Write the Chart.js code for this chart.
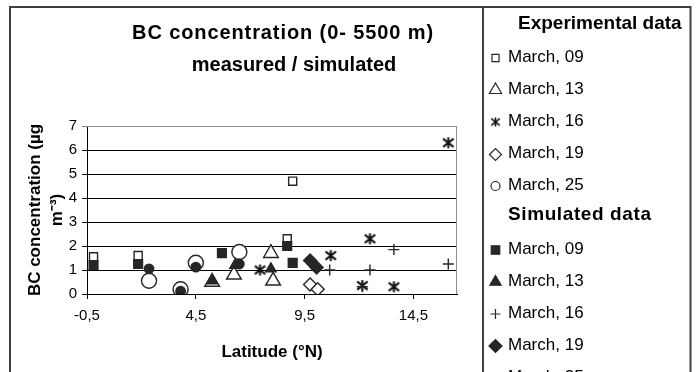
<!DOCTYPE html>
<html lang="en">
<head>
<meta charset="UTF-8">
<title>BC concentration (0- 5500 m)</title>
<script src="https://cdn.jsdelivr.net/npm/chart.js@4.4.0/dist/chart.umd.min.js"></script>
<style>
  html, body { margin: 0; padding: 0; background: #fff; }
</style>
</head>
<body>
<canvas id="chart" width="698" height="372"></canvas>
<script>
// flight days
const dayLabels = ['March, 09', 'March, 13', 'March, 16', 'March, 19', 'March, 25'];

// measured BC (latitude in °N, concentration in µg m-3)
const exp09Lat = [-0.2, 1.85, 8.7, 8.95];
const exp09Bc  = [1.55, 1.6, 2.3, 4.7];
const exp13Lat = [5.25, 6.25, 7.95, 8.05];
const exp13Bc  = [0.5, 0.8, 1.7, 0.55];
const exp16Lat = [7.45, 10.7, 12.15, 12.5, 13.6, 16.1];
const exp16Bc  = [1.0, 1.6, 0.35, 2.3, 0.3, 6.3];
const exp19Lat = [9.75, 10.1];
const exp19Bc  = [0.4, 0.2];
const exp25Lat = [2.35, 3.8, 4.5, 6.5];
const exp25Bc  = [0.55, 0.2, 1.3, 1.75];

// simulated BC
const sim09Lat = [-0.2, 1.85, 5.7, 8.7, 8.95];
const sim09Bc  = [1.2, 1.25, 1.7, 2.0, 1.3];
const sim13Lat = [5.25, 6.3, 7.95];
const sim13Bc  = [0.55, 1.2, 1.05];
const sim16Lat = [10.65, 12.15, 12.5, 13.6, 16.1];
const sim16Bc  = [1.0, 0.3, 1.0, 1.85, 1.25];
const sim19Lat = [9.75, 10.05];
const sim19Bc  = [1.4, 1.1];
const sim25Lat = [2.35, 3.8, 4.5, 6.5];
const sim25Bc  = [1.05, 0.12, 1.12, 1.25];

// axis ticks
const xTickValues = [-0.5, 4.5, 9.5, 14.5];
const xTickLabels = ['-0,5', '4,5', '9,5', '14,5'];

const titleLines = ['BC concentration (0- 5500 m)', 'measured / simulated'];
const yTitleLines = ['BC concentration (\u00b5g', 'm\u207b\u00b3)'];
const xTitle = 'Latitude (\u00b0N)';

const FONT = 'Liberation Sans, Arial, sans-serif';
const INK = '#262626';
Chart.defaults.font.family = FONT;

function pts(xs, ys) {
    return xs.map((x, i) => ({ x: x, y: ys[i] }));
}

// six-armed asterisk marker (Chart.js 'star' has eight arms)
function asterisk(size, lw) {
    const c = document.createElement('canvas');
    c.width = size; c.height = size;
    const g = c.getContext('2d');
    const m = size / 2, r = size / 2 - 1;
    g.strokeStyle = '#111';
    g.lineWidth = lw;
    g.beginPath();
    g.moveTo(m, m - r); g.lineTo(m, m + r);
    g.moveTo(m - r * 0.95, m - r * 0.75); g.lineTo(m + r * 0.95, m + r * 0.75);
    g.moveTo(m - r * 0.95, m + r * 0.75); g.lineTo(m + r * 0.95, m - r * 0.75);
    g.stroke();
    return c;
}
const starBig = asterisk(13, 2);
const starSmall = asterisk(11, 1.6);

function series(label, xs, ys, style, radius, fill, order, legendStyle, legendRadius) {
    return {
        label: label,
        data: pts(xs, ys),
        pointStyle: style,
        pointRadius: radius,
        pointHoverRadius: radius,
        pointBackgroundColor: fill,
        pointBorderColor: INK,
        pointBorderWidth: 1.4,
        order: order,
        legendStyle: legendStyle || style,
        legendRadius: legendRadius
    };
}

const datasets = [
    series(dayLabels[0], exp09Lat, exp09Bc, 'rect', 5.7, '#fff', 2, null, 5),
    series(dayLabels[1], exp13Lat, exp13Bc, 'triangle', 8.5, '#fff', 2, null, 7),
    series(dayLabels[2], exp16Lat, exp16Bc, starBig, 6, '#fff', 2, starSmall, 5),
    series(dayLabels[3], exp19Lat, exp19Bc, 'rectRot', 6.5, '#fff', 2, null, 6),
    series(dayLabels[4], exp25Lat, exp25Bc, 'circle', 7.5, '#fff', 2, null, 4.5),
    series(dayLabels[0], sim09Lat, sim09Bc, 'rect', 6.2, INK, 1, null, 6),
    series(dayLabels[1], sim13Lat, sim13Bc, 'triangle', 6, INK, 1, null, 6.5),
    series(dayLabels[2], sim16Lat, sim16Bc, 'cross', 5.5, INK, 1, null, 5),
    series(dayLabels[3], sim19Lat, sim19Bc, 'rectRot', 6.5, INK, 1, null, 6.5),
    series(dayLabels[4], sim25Lat, sim25Bc, 'circle', 4.7, INK, 1, null, 4.5)
];

// frame, title, legend box and the grey top/right edge of the plot
const decorations = {
    id: 'decorations',
    beforeDatasetsDraw(chart) {
        const { ctx, chartArea: a } = chart;
        ctx.save();
        ctx.strokeStyle = '#8c8c8c';
        ctx.lineWidth = 1;
        ctx.beginPath();
        ctx.moveTo(a.left, a.top + 0.5);
        ctx.lineTo(a.right - 0.5, a.top + 0.5);
        ctx.lineTo(a.right - 0.5, a.bottom);
        ctx.stroke();
        ctx.restore();
    },
    afterDraw(chart) {
        const ctx = chart.ctx;
        const { drawPoint } = Chart.helpers;
        ctx.save();

        // outer frame
        ctx.strokeStyle = '#404040';
        ctx.lineWidth = 2;
        ctx.beginPath();
        ctx.moveTo(10, 380); ctx.lineTo(10, 7); ctx.lineTo(690.5, 7); ctx.lineTo(690.5, 380);
        ctx.stroke();
        ctx.beginPath();
        ctx.moveTo(483, 7); ctx.lineTo(483, 380);
        ctx.stroke();

        // chart title
        ctx.fillStyle = '#000';
        ctx.textAlign = 'center';
        ctx.textBaseline = 'middle';
        ctx.font = 'bold 20px ' + FONT;
        ctx.letterSpacing = '0.9px';
        ctx.fillText(titleLines[0], 283, 33);
        ctx.letterSpacing = '0px';
        ctx.fillText(titleLines[1], 294, 65);

        // legend
        const rows = [
            { head: 'Experimental data', x: 518, y: 24 },
            { ds: 0, y: 57 }, { ds: 1, y: 89 }, { ds: 2, y: 121 }, { ds: 3, y: 153.5 }, { ds: 4, y: 185 },
            { head: 'Simulated data', x: 508, y: 215 },
            { ds: 5, y: 249 }, { ds: 6, y: 281 }, { ds: 7, y: 313 }, { ds: 8, y: 345 }, { ds: 9, y: 377 }
        ];
        ctx.textAlign = 'left';
        rows.forEach(r => {
            if (r.head) {
                ctx.fillStyle = '#000';
                ctx.font = 'bold 19px ' + FONT;
                ctx.letterSpacing = r.ds === undefined && r.x === 508 ? '0.6px' : '0px';
                ctx.fillText(r.head, r.x, r.y);
                ctx.letterSpacing = '0px';
                return;
            }
            const d = chart.data.datasets[r.ds];
            ctx.fillStyle = d.pointBackgroundColor;
            ctx.strokeStyle = d.pointBorderColor;
            ctx.lineWidth = 1.2;
            drawPoint(ctx, { pointStyle: d.legendStyle, radius: d.legendRadius, rotation: 0, borderWidth: 1.2 }, 495.5, r.y + 1);
            ctx.fillStyle = '#000';
            ctx.font = '17px ' + FONT;
            ctx.fillText(d.label, 508, r.y);
        });
        ctx.restore();
    }
};

new Chart(document.getElementById('chart'), {
    type: 'scatter',
    data: { datasets: datasets },
    options: {
        responsive: false,
        animation: false,
        layout: { padding: { top: 126, right: 241, left: 0, bottom: 0 } },
        plugins: {
            legend: { display: false },
            title: { display: false },
            tooltip: { enabled: false }
        },
        scales: {
            x: {
                type: 'linear',
                min: -0.5,
                max: 16.5,
                afterBuildTicks: s => { s.ticks = xTickValues.map(v => ({ value: v })); },
                afterFit: s => { s.height = 78; },
                border: { color: '#000', width: 1 },
                grid: { drawOnChartArea: false, drawTicks: true, tickLength: 5, color: '#000' },
                ticks: {
                    callback: (v, i) => xTickLabels[i],
                    autoSkip: false, maxRotation: 0,
                    font: { size: 15 }, color: '#000', padding: 8
                },
                title: {
                    display: true, text: xTitle, color: '#000',
                    font: { size: 17, weight: 'bold', lineHeight: 1.3 },
                    padding: { top: 0, bottom: 9 }
                }
            },
            y: {
                min: 0,
                max: 7,
                afterFit: s => { s.width = 87; },
                border: { color: '#000', width: 1 },
                grid: {
                    color: c => (c.tick && c.tick.value === 7) ? '#8c8c8c' : '#000',
                    tickLength: 5, lineWidth: 1
                },
                ticks: { stepSize: 1, font: { size: 15 }, color: '#000', padding: 5 },
                title: {
                    display: true, text: yTitleLines, color: '#000',
                    font: { size: 17, weight: 'bold', lineHeight: 1.3 },
                    padding: { top: 24, bottom: 0 }
                }
            }
        }
    },
    plugins: [decorations]
});
</script>
</body>
</html>
